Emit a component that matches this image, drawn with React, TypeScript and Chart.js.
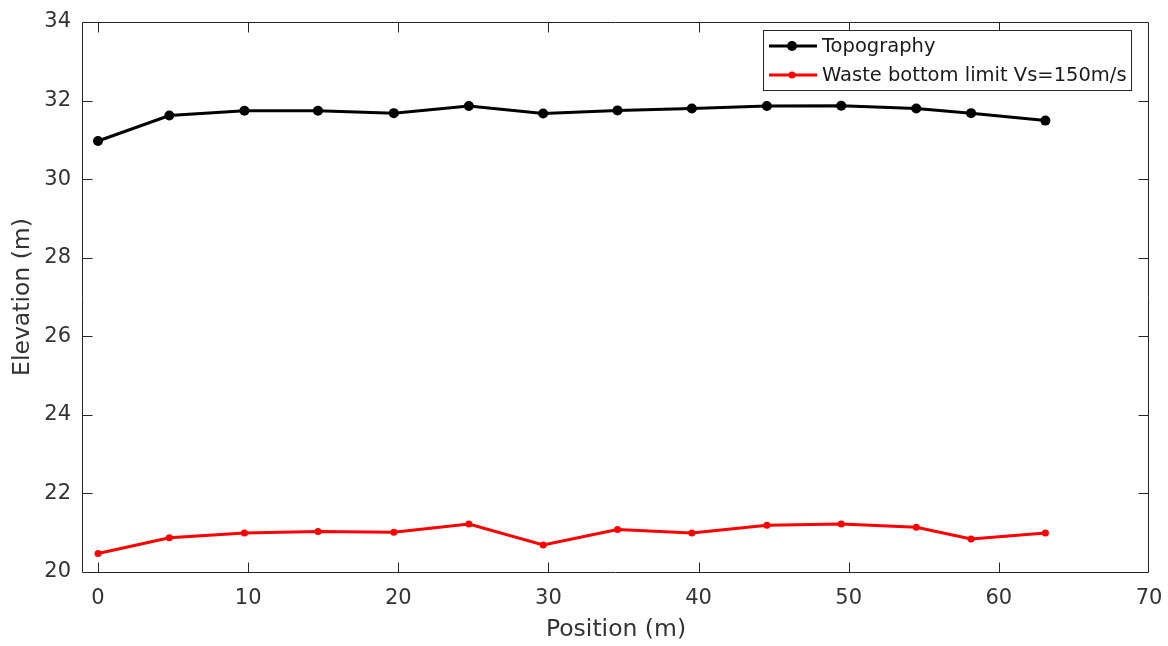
import React, { useEffect, useRef } from "react";
import { Chart, registerables } from "chart.js";

Chart.register(...registerables);

// ---- data ----
const positions = [0, 4.75, 9.75, 14.65, 19.7, 24.7, 29.65, 34.6, 39.55, 44.55, 49.5, 54.5, 58.15, 63.1];
const topography = [30.97, 31.62, 31.74, 31.74, 31.68, 31.86, 31.67, 31.75, 31.8, 31.86, 31.87, 31.8, 31.68, 31.49];
const wasteBottom = [20.47, 20.87, 20.99, 21.03, 21.01, 21.22, 20.69, 21.08, 20.99, 21.19, 21.22, 21.14, 20.84, 20.99];
const xTickValues = [0, 10, 20, 30, 40, 50, 60, 70];
const yTickValues = [20, 22, 24, 26, 28, 30, 32, 34];
const seriesLabels = ["Topography", "Waste bottom limit Vs=150m/s"];
const xTitle = "Position (m)";
const yTitle = "Elevation (m)";

const FONT = "'DejaVu Sans', sans-serif";
const AXIS_COLOR = "#262626";
const TEXT_COLOR = "#333333";

const boxPlugin = {
  id: "matlabBox",
  afterDatasetsDraw(chart: any) {
    const { ctx, chartArea, scales } = chart;
    const L = Math.round(chartArea.left) - 0.5;
    const R = Math.round(chartArea.right) - 0.5;
    const T = Math.round(chartArea.top) + 0.5;
    const B = Math.round(chartArea.bottom) + 0.5;
    const tl = 10;
    ctx.save();
    ctx.strokeStyle = AXIS_COLOR;
    ctx.lineWidth = 1;
    ctx.beginPath();
    ctx.rect(L, T, R - L, B - T);
    scales.x.ticks.forEach((t: any) => {
      const px = Math.round(scales.x.getPixelForValue(t.value)) + 0.5;
      if (px <= L + 1 || px >= R - 1) return;
      ctx.moveTo(px, B);
      ctx.lineTo(px, B - tl);
      ctx.moveTo(px, T);
      ctx.lineTo(px, T + tl);
    });
    scales.y.ticks.forEach((t: any) => {
      const py = Math.round(scales.y.getPixelForValue(t.value)) + 0.5;
      if (py <= T + 1 || py >= B - 1) return;
      ctx.moveTo(L, py);
      ctx.lineTo(L + tl, py);
      ctx.moveTo(R, py);
      ctx.lineTo(R - tl, py);
    });
    ctx.stroke();

    // legend (MATLAB style, top-right inside axes)
    const bx = 763.5, by = 30.5, bw = 368, bh = 60;
    ctx.fillStyle = "#ffffff";
    ctx.fillRect(bx, by, bw, bh);
    ctx.strokeStyle = AXIS_COLOR;
    ctx.lineWidth = 1;
    ctx.strokeRect(bx, by, bw, bh);
    const rows = [46, 75];
    chart.data.datasets.forEach((ds: any, i: number) => {
      const yy = rows[i];
      ctx.strokeStyle = ds.borderColor;
      ctx.lineWidth = ds.borderWidth;
      ctx.beginPath();
      ctx.moveTo(769, yy);
      ctx.lineTo(817, yy);
      ctx.stroke();
      ctx.fillStyle = ds.pointBackgroundColor;
      ctx.beginPath();
      ctx.arc(792, yy, ds.pointRadius, 0, Math.PI * 2);
      ctx.fill();
      ctx.fillStyle = "#1a1a1a";
      ctx.font = `19.5px ${FONT}`;
      ctx.textBaseline = "middle";
      ctx.textAlign = "left";
      ctx.fillText(ds.label, 822, yy + 1);
    });
    ctx.restore();
  },
};

export default function App() {
  const canvasRef = useRef<HTMLCanvasElement | null>(null);

  useEffect(() => {
    const canvas = canvasRef.current;
    if (!canvas) return;
    const chart = new Chart(canvas, {
      type: "line",
      data: {
        datasets: [
          {
            label: seriesLabels[0],
            data: positions.map((x, i) => ({ x, y: topography[i] })),
            borderColor: "#000000",
            backgroundColor: "#000000",
            pointBackgroundColor: "#000000",
            pointBorderColor: "#000000",
            borderWidth: 3,
            pointRadius: 5,
            pointBorderWidth: 0,
            tension: 0,
          },
          {
            label: seriesLabels[1],
            data: positions.map((x, i) => ({ x, y: wasteBottom[i] })),
            borderColor: "#ff0000",
            backgroundColor: "#ff0000",
            pointBackgroundColor: "#ff0000",
            pointBorderColor: "#ff0000",
            borderWidth: 3,
            pointRadius: 3.5,
            pointBorderWidth: 0,
            tension: 0,
          },
        ],
      },
      options: {
        responsive: false,
        animation: false,
        layout: { padding: { top: 22, right: 19, left: 0, bottom: 0 } },
        plugins: {
          legend: { display: false },
          tooltip: { enabled: false },
        },
        scales: {
          x: {
            type: "linear",
            min: -1,
            max: 70,
            grid: { display: false, drawTicks: false, tickLength: 0 },
            border: { display: false },
            afterBuildTicks: (s: any) => {
              s.ticks = xTickValues.map((v) => ({ value: v }));
            },
            afterFit: (s: any) => {
              s.height = 74;
              s.paddingLeft = 0;
              s.paddingRight = 0;
            },
            ticks: {
              color: TEXT_COLOR,
              font: { family: FONT, size: 21 },
              padding: 14,
              maxRotation: 0,
              autoSkip: false,
            },
            title: {
              display: true,
              text: xTitle,
              color: TEXT_COLOR,
              font: { family: FONT, size: 23.5 },
              padding: { top: 0, bottom: 2 },
            },
          },
          y: {
            type: "linear",
            min: 20,
            max: 34,
            grid: { display: false, drawTicks: false, tickLength: 0 },
            border: { display: false },
            afterBuildTicks: (s: any) => {
              s.ticks = yTickValues.map((v) => ({ value: v }));
            },
            afterFit: (s: any) => {
              s.width = 83;
              s.paddingTop = 0;
              s.paddingBottom = 0;
            },
            ticks: {
              color: TEXT_COLOR,
              font: { family: FONT, size: 21 },
              padding: 12,
              autoSkip: false,
            },
            title: {
              display: true,
              text: yTitle,
              color: TEXT_COLOR,
              font: { family: FONT, size: 23.5 },
              padding: { top: 9, bottom: 0 },
            },
          },
        },
      },
      plugins: [boxPlugin],
    } as any);
    return () => chart.destroy();
  }, []);

  return (
    <div style={{ position: "fixed", left: 0, top: 0, width: 1168, height: 646, background: "#fff" }}>
      <canvas ref={canvasRef} width={1168} height={646} style={{ display: "block" }} />
    </div>
  );
}
